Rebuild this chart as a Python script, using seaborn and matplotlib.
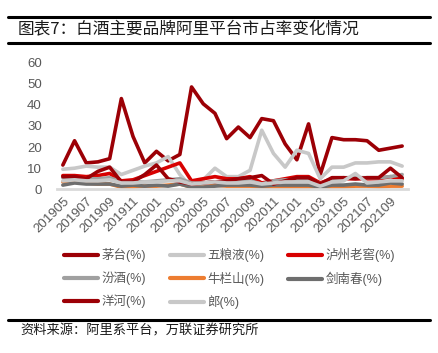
import matplotlib
matplotlib.use("Agg")
import matplotlib.pyplot as plt
from matplotlib.lines import Line2D
import seaborn as sns
import pandas as pd

months = ["201905", "201906", "201907", "201908", "201909", "201910", "201911", "201912",
          "202001", "202002", "202003", "202004", "202005", "202006", "202007", "202008",
          "202009", "202010", "202011", "202012", "202101", "202102", "202103", "202104",
          "202105", "202106", "202107", "202108", "202109", "202110"]

maotai = [11.5, 23, 12.5, 13, 14.5, 43, 25, 12.5, 18, 13.5, 16.5, 48.5, 40.5, 36, 24,
          29.5, 24.5, 33.5, 32.5, 21.5, 14, 31, 7, 24.5, 23.5, 23.5, 23, 18.5, 19.5, 20.5]
wuliangye = [9.5, 10, 11, 10.5, 10.5, 7, 9, 11, 12.5, 15.5, 7, 1, 4.5, 10, 6,
             6, 9, 28, 17, 10.5, 18.5, 17, 5, 10.5, 10.5, 12.5, 12.5, 13, 13, 11]
luzhou = [6.5, 6.5, 6, 6.5, 7.5, 4, 4.5, 6.5, 8.5, 10.5, 12.5, 4, 5, 6, 5,
          5, 6, 3, 4, 5, 6, 6, 3, 5, 5, 5, 5, 5, 6, 5]
fenjiu = [5.5, 5, 5, 5, 5.5, 3.5, 3.5, 3.5, 4, 4.5, 5, 3, 3, 3.5, 3.5,
          3.5, 4, 2.5, 4, 4.5, 4.5, 5, 2.5, 5, 5.5, 5.5, 5.5, 5.5, 6, 7]
niulanshan = [3.5, 3.5, 3, 2.5, 2.5, 1, 1, 1.5, 1.5, 2, 2.5, 1, 1, 2, 1.5,
              1.5, 1.5, 1, 1, 1, 1, 1, 0.5, 1, 1, 1.5, 1.5, 1, 1.5, 1.5]
jiannanchun = [2, 3, 2.5, 2.5, 2.5, 1.5, 2, 1.5, 2, 1.5, 2.5, 1, 1, 1.5, 2,
               2, 2, 1.5, 2, 2, 2, 2, 1, 2, 2, 2.5, 2, 2, 3, 2.5]
yanghe = [6, 6, 5, 8.5, 10.5, 3.5, 3.5, 7, 11.5, 5, 3.5, 2.5, 3, 3.5, 4,
          5, 5.5, 6.5, 2.5, 4, 5.5, 5.5, 2.5, 5.5, 5.5, 5, 5.5, 5.5, 10, 5.5]
lang = [4, 4.5, 4, 4, 4.5, 3, 3, 3.5, 3.5, 4, 4, 2.5, 3, 3.5, 3,
        3, 3.5, 2.5, 3, 3.5, 3.5, 3.5, 1.5, 3.5, 4, 7.5, 3, 3.5, 4, 4]

series_names = ["茅台(%)", "五粮液(%)", "泸州老窖(%)", "汾酒(%)", "牛栏山(%)", "剑南春(%)", "洋河(%)", "郎(%)"]
series_values = [maotai, wuliangye, luzhou, fenjiu, niulanshan, jiannanchun, yanghe, lang]
colors = ["#9C0006", "#C8C8C8", "#D80000", "#A0A0A0", "#ED7D31", "#6E6E6E", "#9C0006", "#C8C8C8"]

rows = []
for name, vals in zip(series_names, series_values):
    for i, v in enumerate(vals):
        rows.append({"idx": i, "value": v, "brand": name})
df = pd.DataFrame(rows)

sns.set_theme(style="white")
plt.rcParams["font.family"] = ["Liberation Sans", "Noto Sans CJK SC"]

W, H = 439, 353
fig = plt.figure(figsize=(W / 100, H / 100), dpi=100)
ax = fig.add_axes([57 / W, 1 - 189.3 / H, (408 - 57) / W, (189.3 - 62.7) / H])

sns.lineplot(data=df, x="idx", y="value", hue="brand", hue_order=series_names,
             palette=dict(zip(series_names, colors)), linewidth=2.6,
             estimator=None, sort=False, ax=ax, legend=True)

ax.set_xlim(-0.5, 29.5)
ax.set_ylim(0, 60)
ax.set_yticks(range(0, 61, 10))
ax.set_xticks(range(0, 30, 2))
ax.set_xticklabels(months[::2], rotation=45, ha="right", rotation_mode="anchor")
ax.set_xlabel("")
ax.set_ylabel("")
ax.tick_params(axis="y", length=0, pad=11, labelsize=9.5, labelcolor="#595959")
ax.tick_params(axis="x", length=0, pad=4, labelsize=9.5, labelcolor="#595959")
for s in ["top", "right", "left"]:
    ax.spines[s].set_visible(False)
ax.spines["bottom"].set_color("#D9D9D9")
ax.spines["bottom"].set_linewidth(2)
ax.grid(False)

handles, labels = ax.get_legend_handles_labels()
ax.get_legend().remove()
for h in handles:
    h.set_linewidth(3)
order = [0, 3, 6, 1, 4, 7, 2, 5]
fig.legend([handles[i] for i in order], [labels[i] for i in order], ncol=3, loc="upper left",
           bbox_to_anchor=(53 / W, 1 - 237 / H), frameon=False,
           fontsize=9, labelcolor="#595959", handlelength=2.7,
           handletextpad=0.3, columnspacing=1.9, labelspacing=0.75)

# header and footer rules
for y, lw in [(17, 2.2), (42.5, 2.2), (320, 2.2)]:
    fig.add_artist(Line2D([8 / W, 430 / W], [1 - y / H, 1 - y / H],
                          transform=fig.transFigure, color="black", lw=lw))

fig.text(18 / W, 1 - 30 / H, "图表7：白酒主要品牌阿里平台市占率变化情况",
         fontsize=12, va="center", ha="left", family=["Noto Sans CJK SC"], color="#1a1a1a")
fig.text(20 / W, 1 - 331 / H, "资料来源：阿里系平台，万联证券研究所",
         fontsize=9.5, va="center", ha="left", family=["Noto Sans CJK SC"], color="#1a1a1a")

fig.savefig("out.png", dpi=100)
